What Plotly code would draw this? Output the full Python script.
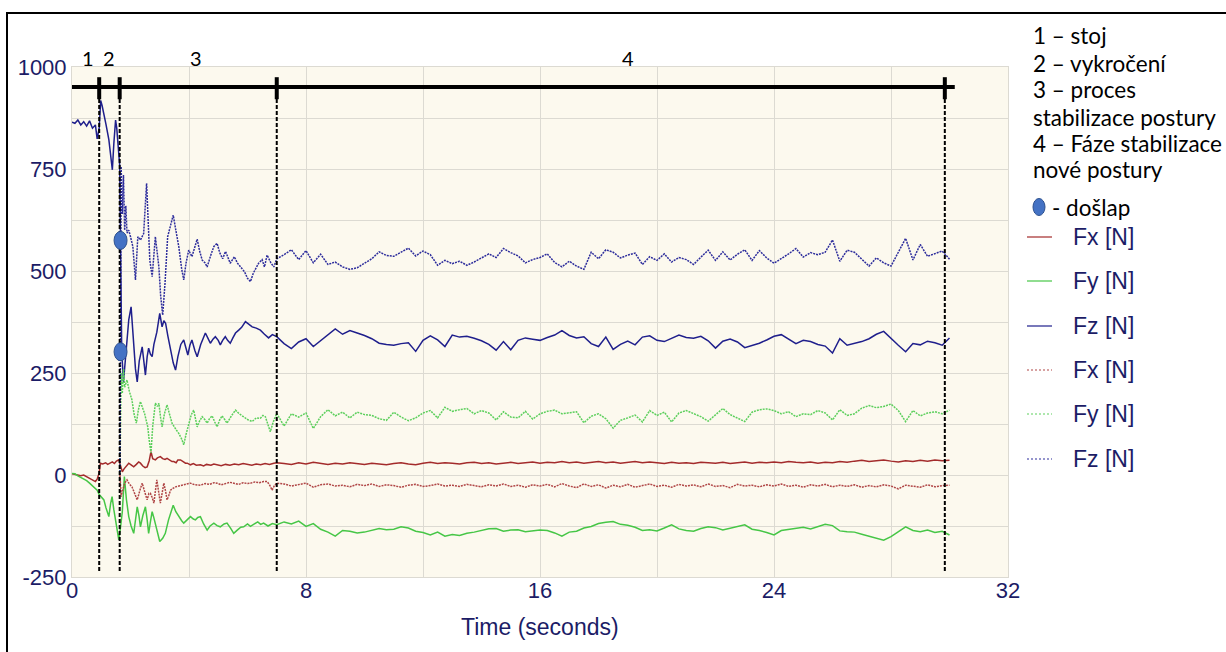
import plotly.graph_objects as go

# ---------------- data ----------------
# Plate 1 (solid lines) – early, dynamic part 0..7 s
t_fz1_early = [0.0, 0.1, 0.2, 0.3, 0.4, 0.5, 0.6, 0.7, 0.8, 0.86, 0.93, 0.98, 1.03, 1.1, 1.16, 1.26, 1.32,
               1.38, 1.43, 1.49, 1.53, 1.58, 1.63, 1.66, 1.70, 1.76, 1.84, 1.94, 2.02, 2.1, 2.17, 2.23,
               2.3, 2.4, 2.46, 2.51, 2.57, 2.62, 2.68, 2.74, 2.8, 2.9, 3.0, 3.08, 3.14, 3.2, 3.28, 3.37,
               3.46, 3.54, 3.62, 3.72, 3.82, 3.9, 3.96, 4.03, 4.1, 4.2, 4.28, 4.4, 4.56, 4.65, 4.73,
               4.82, 4.9, 5.0, 5.07, 5.15, 5.24, 5.32, 5.41, 5.5, 5.59, 5.7, 5.8, 5.93, 6.05, 6.16, 6.3,
               6.44, 6.58, 6.72, 6.85, 7.0]
fz1_early = [865, 862, 870, 858, 866, 855, 868, 850, 858, 824, 850, 918, 905, 875, 860, 822, 790,
             748, 812, 870, 850, 800, 760, 560, 302, 228, 300, 380, 412, 330, 260, 228,
             280, 314, 280, 245, 290, 311, 296, 290, 320, 350, 396, 363, 378, 372, 340, 306,
             275, 257, 290, 320, 331, 310, 294, 318, 331, 305, 290, 320, 348, 335, 323,
             333, 339, 330, 319, 330, 339, 330, 323, 336, 348, 355, 362, 376, 368, 363, 360,
             355, 345, 336, 344, 339]

t_fy1_early = [0.0, 0.1, 0.2, 0.3, 0.4, 0.5, 0.6, 0.7, 0.8, 0.86, 0.93, 1.0, 1.09, 1.16, 1.26, 1.32, 1.37,
               1.43, 1.49, 1.55, 1.6, 1.66, 1.72, 1.79, 1.86, 1.94, 2.02, 2.11, 2.17, 2.23, 2.29, 2.34,
               2.42, 2.51, 2.57, 2.62, 2.68, 2.74, 2.8, 2.85, 2.92, 3.0, 3.1, 3.19, 3.3, 3.4, 3.46, 3.55,
               3.65, 3.75, 3.82, 3.95, 4.05, 4.15, 4.22, 4.3, 4.39, 4.5, 4.62, 4.72, 4.85, 4.96, 5.07,
               5.2, 5.3, 5.42, 5.53, 5.65, 5.77, 5.87, 6.0, 6.1, 6.21, 6.35, 6.45, 6.55, 6.7, 6.85, 7.0]
fy1_early = [4, 3, -2, -6, -8, -14, -20, -27, -33, -37, -48, -55, -61, -80, -102, -70, -53,
             -85, -110, -135, -159, -127, -90, -4, -60, -102, -125, -143, -110, -78, -100, -127,
             -100, -78, -110, -143, -115, -90, -105, -118, -140, -163, -155, -143, -110, -85, -74, -90,
             -102, -112, -118, -108, -102, -108, -110, -104, -102, -120, -135, -125, -118, -124, -127,
             -120, -118, -130, -143, -135, -128, -127, -120, -126, -122, -115, -121, -118, -125, -119, -122]

t_fx1_early = [0.0, 0.1, 0.2, 0.3, 0.4, 0.5, 0.6, 0.7, 0.8, 0.86, 0.93, 0.97, 1.05, 1.15, 1.22, 1.3, 1.38,
               1.45, 1.52, 1.6, 1.66, 1.72, 1.78, 1.86, 1.94, 2.02, 2.11, 2.2, 2.28, 2.34, 2.42, 2.5,
               2.57, 2.64, 2.7, 2.76, 2.85, 2.92, 3.02, 3.1, 3.18, 3.25, 3.34, 3.42, 3.48, 3.56, 3.62,
               3.71, 3.8, 3.88, 3.94, 4.05, 4.15, 4.25, 4.39, 4.5, 4.6, 4.75, 4.85, 4.96, 5.1, 5.25,
               5.4, 5.55, 5.7, 5.85, 6.0, 6.15, 6.3, 6.45, 6.6, 6.75, 6.9, 7.0]
fx1_early = [3, 1, 0, -2, 0, -4, -8, -12, -16, -10, 5, 29, 27, 30, 26, 29, 32,
             28, 34, 37, 25, 8, 15, 22, 29, 25, 20, 26, 32, 29, 22, 18,
             20, 35, 57, 40, 37, 42, 45, 40, 38, 41, 36, 33, 33, 30, 37,
             37, 33, 29, 29, 25, 28, 24, 25, 22, 26, 24, 27, 25, 23, 26,
             24, 27, 25, 28, 26, 24, 27, 25, 28, 26, 29, 30]

# Plate 2 (dotted lines) – starts at the step (touch-down)
t_fz2_early = [1.64, 1.68, 1.72, 1.76, 1.8, 1.84, 1.88, 1.94, 2.0, 2.08, 2.17, 2.25, 2.34, 2.45, 2.55, 2.66,
               2.74, 2.85, 2.97, 3.03, 3.1, 3.18, 3.27, 3.36, 3.46, 3.55, 3.65, 3.75, 3.82, 3.9, 3.99,
               4.1, 4.2, 4.28, 4.36, 4.45, 4.55, 4.62, 4.75, 4.85, 4.96, 5.05, 5.15, 5.25, 5.41, 5.55,
               5.65, 5.76, 5.9, 6.0, 6.1, 6.2, 6.3, 6.38, 6.5, 6.58, 6.67, 6.8, 6.9, 7.0]
fz2_early = [0, 756, 640, 735, 600, 660, 593, 600, 584, 560, 478, 584, 576, 592, 715, 527,
             486, 584, 510, 440, 392, 470, 584, 610, 637, 600, 560, 505, 478, 520, 551,
             535, 560, 578, 550, 527, 520, 510, 540, 560, 568, 545, 530, 548, 519, 535,
             520, 510, 498, 482, 474, 495, 510, 519, 528, 510, 539, 520, 510, 530]

t_fy2_early = [1.64, 1.68, 1.72, 1.76, 1.8, 1.88, 1.96, 2.05, 2.12, 2.2, 2.27, 2.34, 2.41, 2.48, 2.55, 2.59,
               2.64, 2.7, 2.76, 2.85, 2.92, 2.97, 3.03, 3.08, 3.16, 3.25, 3.33, 3.42, 3.55, 3.65, 3.75,
               3.82, 3.9, 3.99, 4.08, 4.16, 4.22, 4.28, 4.36, 4.45, 4.55, 4.62, 4.7, 4.79, 4.88, 4.96,
               5.05, 5.13, 5.22, 5.3, 5.45, 5.59, 5.72, 5.87, 6.0, 6.16, 6.3, 6.44, 6.53, 6.61, 6.7,
               6.78, 6.88, 7.0]
fy2_early = [0, 250, 200, 260, 215, 233, 205, 184, 150, 127, 160, 180, 165, 151, 130, 118,
             85, 54, 120, 176, 168, 176, 140, 118, 150, 172, 150, 127, 112, 102, 88,
             74, 100, 127, 148, 159, 135, 118, 132, 143, 135, 127, 138, 145, 130, 118,
             135, 145, 136, 127, 145, 159, 150, 143, 136, 131, 140, 139, 146, 143, 125,
             106, 130, 151]

t_fx2_early = [1.64, 1.68, 1.72, 1.8, 1.88, 1.96, 2.05, 2.14, 2.23, 2.32, 2.4, 2.48, 2.57, 2.63, 2.68, 2.74,
               2.8, 2.85, 2.9, 2.96, 3.02, 3.08, 3.14, 3.2, 3.25, 3.31, 3.37, 3.45, 3.54, 3.65, 3.77,
               3.9, 4.05, 4.2, 4.39, 4.55, 4.7, 4.85, 4.96, 5.1, 5.25, 5.4, 5.53, 5.7, 5.85, 6.0,
               6.1, 6.25, 6.4, 6.55, 6.67, 6.76, 6.84, 6.92, 7.0]
fx2_early = [0, -53, -40, -20, -12, -22, -29, -45, -61, -38, -20, -40, -61, -45, -45, -55,
             -69, -40, -12, -40, -69, -45, -20, -40, -61, -50, -37, -33, -29, -27, -25,
             -22, -20, -24, -25, -21, -23, -19, -20, -24, -21, -18, -20, -23, -19, -21,
             -20, -17, -19, -16, -16, -25, -37, -26, -20]

# Quasi-static part 7.25..30 s (shared time base)
t_late = [7.25, 7.5, 7.75, 8.0, 8.25, 8.5, 8.75, 9.0, 9.25, 9.5, 9.75, 10.0, 10.25, 10.5, 10.75, 11.0,
          11.25, 11.5, 11.75, 12.0, 12.25, 12.5, 12.75, 13.0, 13.25, 13.5, 13.75, 14.0, 14.25, 14.5,
          14.75, 15.0, 15.25, 15.5, 15.75, 16.0, 16.25, 16.5, 16.75, 17.0, 17.25, 17.5, 17.75, 18.0,
          18.25, 18.5, 18.75, 19.0, 19.25, 19.5, 19.75, 20.0, 20.25, 20.5, 20.75, 21.0, 21.25, 21.5,
          21.75, 22.0, 22.25, 22.5, 22.75, 23.0, 23.25, 23.5, 23.75, 24.0, 24.25, 24.5, 24.75, 25.0,
          25.25, 25.5, 25.75, 26.0, 26.25, 26.5, 26.75, 27.0, 27.25, 27.5, 27.75, 28.0, 28.25, 28.5,
          28.75, 29.0, 29.25, 29.5, 29.75, 30.0]

fz2_late = [540, 552, 528, 550, 520, 541, 516, 522, 510, 504, 508, 520, 530, 547, 538, 536,
            545, 556, 537, 549, 540, 514, 526, 518, 524, 514, 522, 531, 542, 533,
            555, 545, 537, 520, 528, 533, 542, 521, 510, 524, 512, 504, 546, 530,
            552, 546, 532, 539, 544, 516, 535, 526, 542, 522, 533, 528, 516, 534,
            551, 526, 547, 527, 541, 552, 526, 550, 532, 519, 530, 542, 555, 534,
            545, 540, 546, 576, 524, 551, 546, 530, 512, 532, 520, 512, 548, 580,
            527, 565, 536, 543, 549, 529]

fz1_late = [322, 310, 326, 334, 315, 330, 344, 358, 345, 354, 348, 342, 334, 323, 320, 318,
            322, 324, 303, 330, 341, 331, 315, 343, 338, 340, 335, 329, 320, 306,
            327, 307, 330, 336, 333, 330, 337, 343, 354, 342, 336, 339, 322, 315,
            338, 308, 320, 328, 319, 338, 341, 330, 327, 336, 343, 337, 335, 340,
            329, 311, 328, 333, 326, 312, 318, 323, 331, 340, 344, 334, 322, 330,
            327, 320, 316, 299, 334, 318, 322, 327, 334, 345, 352, 334, 318, 302,
            322, 319, 328, 324, 318, 336]

fy2_late = [120, 150, 142, 152, 114, 143, 160, 145, 154, 140, 154, 148, 146, 138, 134, 154,
            142, 133, 140, 152, 158, 140, 166, 156, 160, 163, 150, 158, 152, 135,
            155, 142, 140, 156, 137, 150, 156, 159, 150, 152, 155, 128, 144, 150,
            138, 115, 134, 140, 147, 130, 158, 146, 154, 130, 152, 158, 150, 143,
            132, 148, 163, 148, 140, 131, 154, 160, 162, 158, 150, 155, 143, 150,
            148, 158, 152, 135, 160, 146, 150, 164, 170, 165, 168, 174, 158, 131,
            158, 145, 152, 155, 150, 159]

fx1_late = [28, 26, 30, 27, 31, 28, 26, 29, 27, 30, 28, 26, 29, 27, 25, 28,
            30, 27, 25, 29, 31, 28, 30, 29, 27, 30, 31, 28, 30, 27,
            29, 31, 28, 30, 32, 29, 31, 30, 33, 30, 32, 29, 31, 33,
            30, 32, 29, 31, 33, 30, 32, 30, 28, 31, 29, 30, 28, 31,
            30, 29, 31, 28, 30, 32, 29, 31, 30, 32, 30, 33, 31, 30,
            32, 29, 31, 30, 33, 31, 34, 36, 33, 35, 37, 34, 32, 35,
            33, 36, 34, 37, 35, 36]

fx2_late = [-22, -27, -24, -20, -30, -24, -22, -27, -25, -29, -23, -26, -22, -28, -24, -26,
            -30, -25, -23, -28, -26, -22, -27, -25, -28, -23, -26, -29, -24, -27,
            -22, -28, -25, -30, -24, -27, -23, -29, -21, -27, -31, -22, -28, -24,
            -32, -25, -29, -23, -30, -26, -22, -28, -25, -30, -23, -27, -24, -29,
            -22, -28, -26, -31, -23, -27, -25, -29, -24, -27, -22, -28, -25, -30,
            -24, -27, -23, -29, -25, -28, -24, -30, -26, -29, -24, -27, -34, -25,
            -28, -30, -24, -29, -26, -25]

fy1_late = [-115, -120, -113, -126, -119, -133, -140, -150, -136, -138, -142, -140, -136, -131, -134, -133,
            -127, -130, -138, -141, -147, -140, -150, -146, -148, -143, -140, -136, -132, -131,
            -138, -135, -134, -139, -137, -135, -136, -142, -150, -140, -138, -130, -126, -119,
            -116, -114, -121, -123, -128, -136, -134, -137, -130, -122, -132, -136, -138, -131,
            -127, -129, -135, -131, -126, -122, -133, -136, -141, -147, -136, -133, -131, -128,
            -132, -127, -121, -124, -137, -139, -140, -145, -150, -155, -160, -151, -140, -127,
            -136, -139, -135, -141, -138, -147]

# Axis ticks
x_tick_vals = [0, 8, 16, 24, 32]
x_tick_text = ["0", "8", "16", "24", "32"]
y_tick_vals = [-250, 0, 250, 500, 750, 1000]
y_tick_text = ["-250", "0", "250", "500", "750", "1000"]

# Phases and touch-down marks
phase_bounds = [0.93, 1.63, 7.0, 29.84]
phase_bar_end = 30.18
phase_bar_level = 951
phase_labels = ["1", "2", "3", "4"]
phase_label_x = [0.53, 1.25, 4.25, 19.0]
touchdown_t = [1.66, 1.66]
touchdown_f = [575, 302]

legend_phase_lines = ["1 \u2013 stoj", "2 \u2013 vykro\u010den\u00ed", "3 \u2013 proces",
                      "stabilizace postury", "4 \u2013 F\u00e1ze stabilizace", "nov\u00e9 postury"]
legend_series = ["Fx [N]", "Fy [N]", "Fz [N]", "Fx [N]", "Fy [N]", "Fz [N]"]

# ---------------- styling ----------------
W, H = 1226, 652
L, R, T, B = 72, 218, 67, 75
PW, PH = W - L - R, H - T - B


def px(xp):
    return (xp - L) / PW


def py(yp):
    return (H - B - yp) / PH


NAVY = "#1c1c66"
C_FX, C_FY, C_FZ = "#a32b2b", "#46c646", "#1f1f8c"
C_FX2, C_FY2, C_FZ2 = "#b04646", "#5ccf5c", "#2d2d9c"
DOT = "2px,1px"

fig = go.Figure()

series = [
    (t_fx1_early + t_late, fx1_early + fx1_late, C_FX, "solid"),
    (t_fy1_early + t_late, fy1_early + fy1_late, C_FY, "solid"),
    (t_fz1_early + t_late, fz1_early + fz1_late, C_FZ, "solid"),
    (t_fx2_early + t_late, fx2_early + fx2_late, C_FX2, DOT),
    (t_fy2_early + t_late, fy2_early + fy2_late, C_FY2, DOT),
    (t_fz2_early + t_late, fz2_early + fz2_late, C_FZ2, DOT),
]
for (xs, ys, col, dash), name in zip(series, legend_series):
    fig.add_trace(go.Scatter(x=xs, y=ys, mode="lines", name=name, showlegend=False,
                             line=dict(color=col, width=1.5, dash=dash), hoverinfo="skip"))

shapes = []
# phase bar
shapes.append(dict(type="line", xref="x", yref="y", x0=0, x1=phase_bar_end,
                   y0=phase_bar_level, y1=phase_bar_level, line=dict(color="black", width=4)))
for b in phase_bounds:
    shapes.append(dict(type="line", xref="x", yref="y", x0=b, x1=b, y0=-235, y1=phase_bar_level,
                       line=dict(color="black", width=2, dash="4px,2px")))
    shapes.append(dict(type="line", xref="x", yref="y", x0=b, x1=b, y0=phase_bar_level - 30,
                       y1=phase_bar_level + 24, line=dict(color="black", width=4)))
# touchdown dots (ellipses in pixel size)
for tt, ff in zip(touchdown_t, touchdown_f):
    shapes.append(dict(type="circle", xref="x", yref="y", xsizemode="pixel", ysizemode="pixel",
                       xanchor=tt, yanchor=ff, x0=-6.5, x1=6.5, y0=-9, y1=9,
                       fillcolor="#4472c4", line=dict(color="#2f528f", width=1)))
# outer frame
shapes.append(dict(type="rect", xref="paper", yref="paper", x0=px(7), x1=px(1240), y0=py(670), y1=py(13),
                   line=dict(color="black", width=2), fillcolor="rgba(0,0,0,0)"))
# custom legend: touchdown dot
shapes.append(dict(type="circle", xref="paper", yref="paper", xsizemode="pixel", ysizemode="pixel",
                   xanchor=px(1039), yanchor=py(207), x0=-6, x1=6, y0=-8.5, y1=8.5,
                   fillcolor="#4472c4", line=dict(color="#2f528f", width=1)))
# custom legend: line samples
leg_y = [237, 281, 326, 370, 414, 459]
for (xs, ys, col, dash), yy in zip(series, leg_y):
    shapes.append(dict(type="line", xref="paper", yref="paper", x0=px(1027), x1=px(1052),
                       y0=py(yy), y1=py(yy), line=dict(color=col, width=1.2,
                                                        dash="2px,2px" if dash != "solid" else "solid")))

annotations = []
for lab, lx in zip(phase_labels, phase_label_x):
    annotations.append(dict(x=px(L + lx * PW / 32), y=py(58), xref="paper", yref="paper", text=lab,
                            showarrow=False, font=dict(family="Lato", size=20, color="black"),
                            xanchor="center", yanchor="middle"))
row_y = [35, 63, 90, 117, 143, 170]
for txt, yy in zip(legend_phase_lines, row_y):
    annotations.append(dict(x=px(1031), y=py(yy), xref="paper", yref="paper", text=txt, showarrow=False,
                            font=dict(family="Lato", size=22.5, color="black"),
                            xanchor="left", yanchor="middle"))
annotations.append(dict(x=px(1050), y=py(207), xref="paper", yref="paper", text="- do\u0161lap",
                        showarrow=False, font=dict(family="Lato", size=22.5, color="black"),
                        xanchor="left", yanchor="middle"))
for txt, yy in zip(legend_series, leg_y):
    annotations.append(dict(x=px(1071), y=py(yy), xref="paper", yref="paper", text=txt, showarrow=False,
                            font=dict(family="Liberation Sans", size=23, color=NAVY),
                            xanchor="left", yanchor="middle"))
annotations.append(dict(x=px(540), y=py(627), xref="paper", yref="paper", text="Time (seconds)",
                        showarrow=False, font=dict(family="Liberation Sans", size=23, color=NAVY),
                        xanchor="center", yanchor="middle"))

GRID = "#dcdad2"
fig.update_layout(
    width=W, height=H, margin=dict(l=L, r=R, t=T, b=B),
    paper_bgcolor="white", plot_bgcolor="#fcf9ee",
    shapes=shapes, annotations=annotations,
    xaxis=dict(range=[0, 32], tickmode="array", tickvals=x_tick_vals, ticktext=x_tick_text,
               showgrid=True, gridcolor=GRID,
               minor=dict(dtick=4, tick0=0, showgrid=True, gridcolor=GRID), zeroline=False,
               showline=True, linecolor=GRID, mirror=True, ticks="", ticklabelstandoff=-6,
               tickfont=dict(family="Liberation Sans", size=22, color=NAVY)),
    yaxis=dict(range=[-250, 1000], tickmode="array", tickvals=y_tick_vals, ticktext=y_tick_text,
               showgrid=True, gridcolor=GRID,
               minor=dict(dtick=125, tick0=0, showgrid=True, gridcolor=GRID), zeroline=False,
               showline=True, linecolor=GRID, mirror=True, ticks="",
               tickfont=dict(family="Liberation Sans", size=22, color=NAVY)),
    showlegend=False,
)

fig.write_html("out.html")
